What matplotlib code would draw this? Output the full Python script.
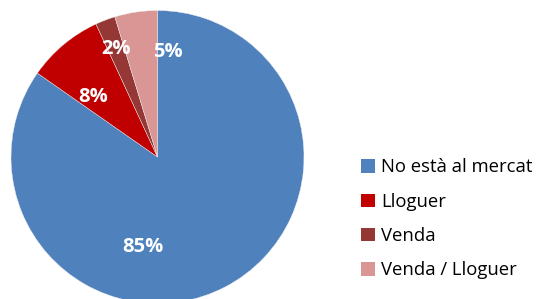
import matplotlib
matplotlib.use("Agg")
import matplotlib.pyplot as plt
import numpy as np

categories = ["No està al mercat", "Lloguer", "Venda", "Venda / Lloguer"]
values = [84.7, 8.4, 2.2, 4.7]
labels_pct = ["85%", "8%", "2%", "5%"]
colors = ["#4F81BD", "#C00000", "#953735", "#D99694"]

plt.rcParams['font.family'] = ['Open Sans', 'DejaVu Sans']

fig = plt.figure(figsize=(5.36, 2.99), dpi=100)
W, H = 536, 299
cx, cy, r = 157.5, 299 - 157, 146.5
ax = fig.add_axes([(cx - r) / W, (cy - r) / H, 2 * r / W, 2 * r / H])

wedges, _ = ax.pie(values, colors=colors, startangle=90, counterclock=False,
                   wedgeprops=dict(linewidth=0.3, edgecolor="#f0f0f0"))
ax.set_xlim(-1, 1)
ax.set_ylim(-1, 1)
ax.set_aspect("equal")
ax.axis("off")

# label placement (radius fraction, angle in degrees from 3 o'clock)
label_pos = [(0.62, -99), (0.60, 137), (0.79, 111), (0.72, 84.5)]
for txt, (rr, ang) in zip(labels_pct, label_pos):
    a = np.deg2rad(ang)
    ax.text(rr * np.cos(a), rr * np.sin(a), txt, color="white", fontsize=14.5,
            fontweight="bold", ha="center", va="center")

leg = fig.legend(wedges, categories, loc="upper left",
                 bbox_to_anchor=(361 / W, 1 - 158.5 / H),
                 frameon=False, fontsize=13.3, handlelength=0.74, handleheight=0.74,
                 handletextpad=0.33, labelspacing=0.88, borderaxespad=0, borderpad=0)
for h in leg.legend_handles:
    h.set_linewidth(0)

fig.savefig("out.png", dpi=100)
